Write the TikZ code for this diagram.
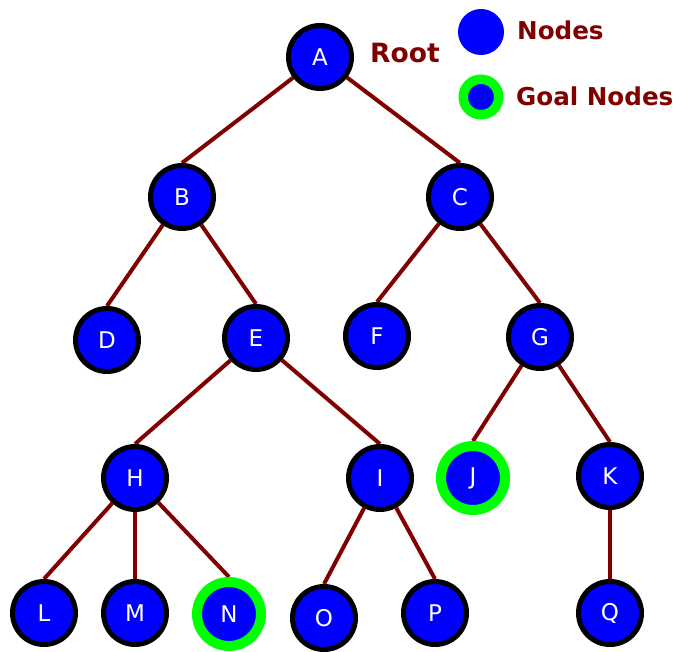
\documentclass[tikz,border=0pt]{standalone}
\usepackage{fontspec}
\setmainfont{DejaVu Sans}
\usetikzlibrary{backgrounds}
\definecolor{treeblue}{RGB}{0,0,255}
\definecolor{edgered}{RGB}{128,0,0}
\definecolor{goalgreen}{RGB}{0,255,0}
\tikzset{
  treenode/.style={circle, fill=treeblue, draw=black, line width=5pt, minimum size=63pt, inner sep=0pt, text=white, font=\fontsize{23}{23}\selectfont},
  goalnode/.style={treenode, draw=goalgreen, line width=10pt, minimum size=64pt},
  treeedge/.style={draw=edgered, line width=4pt},
  legendtext/.style={text=edgered, anchor=west, inner sep=0pt, font=\fontsize{24.6}{24.6}\selectfont\bfseries}
}
\begin{document}
\begin{tikzpicture}[x=1pt, y=-1pt]
    \useasboundingbox (0, 0) rectangle (675, 652);

    \node[treenode] (A) at (320, 57) {A};
    \node[treenode] (B) at (182, 197) {B};
    \node[treenode] (C) at (460, 197) {C};
    \node[treenode] (D) at (107, 340) {D};
    \node[treenode] (E) at (256, 338) {E};
    \node[treenode] (F) at (377, 336) {F};
    \node[treenode] (G) at (540, 337) {G};
    \node[treenode] (H) at (135, 478) {H};
    \node[treenode] (I) at (380, 478) {I};
    \node[goalnode] (J) at (473, 478) {J};
    \node[treenode] (K) at (610, 476) {K};
    \node[treenode] (L) at (44, 613) {L};
    \node[treenode] (M) at (135, 613) {M};
    \node[goalnode] (N) at (229, 614) {N};
    \node[treenode] (O) at (324, 618) {O};
    \node[treenode] (P) at (435, 613) {P};
    \node[treenode] (Q) at (610, 613) {Q};

    \begin{pgfonlayer}{background}
        \draw[treeedge] (A) -- (B.north);
        \draw[treeedge] (A) -- (C.north);
        \draw[treeedge] (B) -- (D.north);
        \draw[treeedge] (B) -- (E.north);
        \draw[treeedge] (C) -- (F.north);
        \draw[treeedge] (C) -- (G.north);
        \draw[treeedge] (E) -- (H.north);
        \draw[treeedge] (E) -- (I.north);
        \draw[treeedge] (G) -- (J.north);
        \draw[treeedge] (G) -- (K.north);
        \draw[treeedge] (H) -- (L.north);
        \draw[treeedge] (H) -- (M.north);
        \draw[treeedge] (H) -- (N.north);
        \draw[treeedge] (I) -- (O.north);
        \draw[treeedge] (I) -- (P.north);
        \draw[treeedge] (K) -- (Q.north);
    \end{pgfonlayer}

    \node[legendtext, font=\fontsize{26.5}{26.5}\selectfont\bfseries] (root) at (370, 53) {Root};

    \node[circle, fill=treeblue, minimum size=46pt, inner sep=0pt] (nodekey) at (481, 32) {};
    \node[legendtext] (nodelabel) at (517, 30) {Nodes};
    \node[circle, fill=treeblue, draw=goalgreen, line width=9.5pt, minimum size=35.5pt, inner sep=0pt] (goalkey) at (481, 97) {};
    \node[legendtext] (goallabel) at (516, 96) {Goal Nodes};
\end{tikzpicture}
\end{document}
